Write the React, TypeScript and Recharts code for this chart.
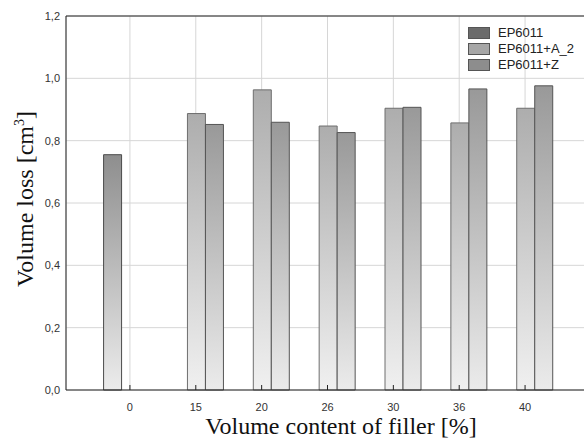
import { Bar, BarChart, CartesianGrid, ReferenceLine, XAxis, YAxis } from 'recharts';

const categories = ['0', '15', '20', '26', '30', '36', '40'];
const ep6011 = [0.755, null, null, null, null, null, null];
const epA2 = [null, 0.887, 0.963, 0.847, 0.904, 0.857, 0.904];
const epZ = [null, 0.852, 0.859, 0.826, 0.907, 0.966, 0.976];
const yTicks = [0, 0.2, 0.4, 0.6, 0.8, 1.0, 1.2];

const SERIES = [
  { key: 'ep6011', name: 'EP6011', swatch: '#6b6b6b', top: '#8e8e8e', bottom: '#ececec', stroke: '#4a4a4a' },
  { key: 'epA2', name: 'EP6011+A_2', swatch: '#a6a6a6', top: '#adadad', bottom: '#f0f0f0', stroke: '#6e6e6e' },
  { key: 'epZ', name: 'EP6011+Z', swatch: '#8d8d8d', top: '#999999', bottom: '#ebebeb', stroke: '#555555' },
];

const data = categories.map((c, i) => ({
  name: c,
  ep6011: ep6011[i],
  epA2: epA2[i],
  epZ: epZ[i],
}));

const SANS = '"Liberation Sans", Arial, sans-serif';
const SERIF = '"Liberation Serif", "Times New Roman", serif';

const XTick = ({ x, y, payload }: any) => (
  <g>
    <line x1={x} x2={x} y1={y} y2={y - 5} stroke="#222" />
    <text x={x} y={y + 21} textAnchor="middle" fontSize={11} fill="#333" fontFamily={SANS}>
      {payload.value}
    </text>
  </g>
);

// legend drawn as an overlay so it doesn't eat plot space
const ChartLegend = () => (
  <div
    style={{
      position: 'absolute',
      top: 25,
      left: 468,
      fontFamily: SANS,
      fontSize: 13,
      color: '#222',
      lineHeight: '16px',
    }}>
    {SERIES.map((s) => (
      <div key={s.key} style={{ display: 'flex', alignItems: 'center', height: 16 }}>
        <span
          style={{
            display: 'inline-block',
            width: 20,
            height: 10,
            background: s.swatch,
            border: '1px solid #555',
            marginRight: 8,
          }}
        />
        {s.name}
      </div>
    ))}
  </div>
);

export default function App() {
  return (
    <div
      style={{
        position: 'absolute',
        left: 0,
        top: 0,
        width: 584,
        height: 440,
        overflow: 'hidden',
        background: '#fff',
      }}>
      <svg width={0} height={0} style={{ position: 'absolute' }}>
        <defs>
          {SERIES.map((s) => (
            <linearGradient key={s.key} id={`grad-${s.key}`} x1="0" y1="0" x2="0" y2="1">
              <stop offset="0%" stopColor={s.top} />
              <stop offset="100%" stopColor={s.bottom} />
            </linearGradient>
          ))}
        </defs>
      </svg>
      {/* plot runs past the right edge, like the cropped original */}
      <BarChart
        width={588}
        height={440}
        data={data}
        margin={{ top: 16, right: 0, bottom: 0, left: 0 }}
        barGap={0}
        barCategoryGap="10%">
        <CartesianGrid stroke="#d6d6d6" />
        <XAxis
          dataKey="name"
          height={50}
          padding={{ left: 31, right: 30 }}
          axisLine={{ stroke: '#222' }}
          tickLine={false}
          tickSize={0}
          tickMargin={0}
          tick={<XTick />}
          interval={0}
          label={{
            content: () => (
              <text x={341} y={434} textAnchor="middle" fontSize={24} fontFamily={SERIF} fill="#111">
                Volume content of filler [%]
              </text>
            ),
          }}
        />
        <YAxis
          domain={[0, 1.2]}
          ticks={yTicks}
          width={66}
          axisLine={{ stroke: '#222' }}
          tickLine={false}
          tickSize={0}
          tickMargin={6}
          tick={{ fontSize: 11, fill: '#333', fontFamily: SANS }}
          tickFormatter={(v: number) => v.toFixed(1).replace('.', ',')}
          label={{
            content: () => (
              <text
                transform="translate(33, 199) rotate(-90)"
                textAnchor="middle"
                fontSize={24}
                fontFamily={SERIF}
                fill="#111">
                Volume loss [cm
                <tspan fontSize={14} dy={-9}>3</tspan>
                <tspan dy={9}>]</tspan>
              </text>
            ),
          }}
        />
        <ReferenceLine y={1.2} stroke="#222" />
        {SERIES.map((s) => (
          <Bar
            key={s.key}
            dataKey={s.key}
            name={s.name}
            fill={`url(#grad-${s.key})`}
            stroke={s.stroke}
            strokeWidth={1}
            isAnimationActive={false}
          />
        ))}
      </BarChart>
      <ChartLegend />
    </div>
  );
}
